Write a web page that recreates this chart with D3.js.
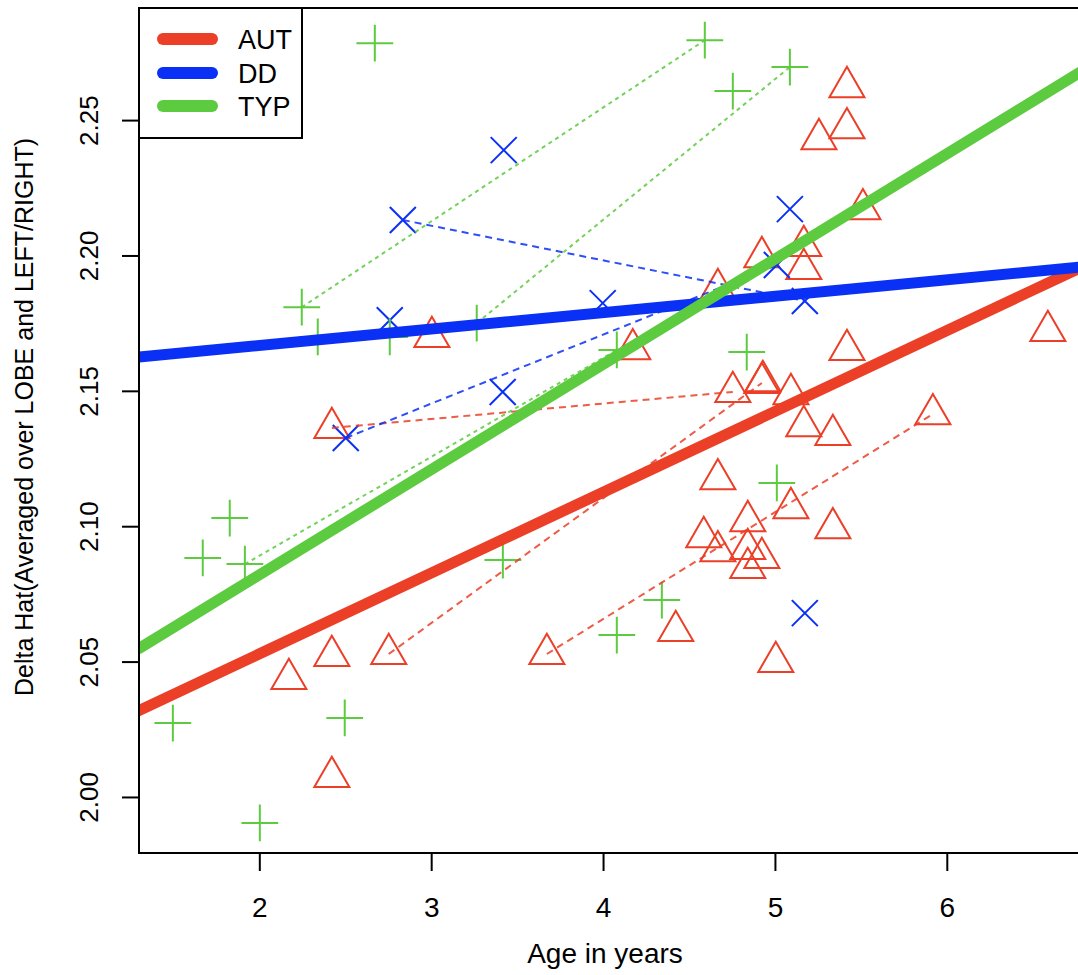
<!DOCTYPE html>
<html>
<head>
<meta charset="utf-8">
<script src="https://cdn.jsdelivr.net/npm/d3@7"></script>
<style>
html,body{margin:0;padding:0;background:#fff;}
svg{display:block;}
text{font-family:"Liberation Sans",Arial,Helvetica,sans-serif;fill:#000;}
</style>
</head>
<body>
<svg id="chart" width="1078" height="975"></svg>
<script>
// ---------------- data ----------------
const groups = ["AUT", "DD", "TYP"];
const groupColors = ["#ec3f27", "#0a30f6", "#5ccb3f"];

// AUT (red triangles)
const autAge = [5.419,5.419,5.256,5.512,5.168,5.168,4.924,4.668,5.419,6.588,4.173,4.755,4.924,5.093,5.168,5.337,5.919,4.668,5.093,4.842,5.337,4.586,4.668,4.842,4.924,4.842,4.423,5.005,2.422,2.753,3.673,2.172,2.422,3.004,2.422,4.930];
const autVal = [2.2622,2.2470,2.2430,2.2171,2.2035,2.1950,2.1994,2.1876,2.1651,2.1721,2.1654,2.1496,2.1529,2.1488,2.1370,2.1337,2.1414,2.1174,2.1067,2.1019,2.0993,2.0960,2.0908,2.0916,2.0883,2.0846,2.0613,2.0499,2.0521,2.0528,2.0528,2.0436,2.0074,2.1699,2.1363,2.1536];
// DD (blue crosses)
const ddAge = [3.422,2.835,2.759,3.998,3.416,2.503,5.087,5.011,5.174,5.174];
const ddVal = [2.2389,2.2131,2.1761,2.1824,2.1496,2.1326,2.2171,2.1965,2.1832,2.0679];
// TYP (green pluses)
const typAge = [2.672,4.592,4.755,5.087,2.247,2.340,2.759,3.265,4.080,4.836,1.828,1.671,1.916,3.417,4.080,4.342,5.011,1.497,2.003,2.497];
const typVal = [2.2784,2.2795,2.2607,2.2696,2.1809,2.1699,2.1699,2.1750,2.1651,2.1643,2.1030,2.0883,2.0860,2.0875,2.0598,2.0727,2.1160,2.0273,1.9904,2.0292];

// repeated-measure links (index pairs into each group's arrays)
const autPairs = [[34,11],[29,12],[30,16]];
const ddPairs  = [[1,8],[5,7]];
const typPairs = [[4,1],[7,3],[12,8]];

// fitted regression lines: value = intercept + slope * age
const fitIntercept = [1.9931, 2.1546, 2.0043];
const fitSlope     = [0.02986, 0.00607, 0.03887];

const xTicks = [2,3,4,5,6];
const yTicks = [2.00,2.05,2.10,2.15,2.20,2.25];
const xTitle = "Age in years";
const yTitle = "Delta Hat(Averaged over LOBE and LEFT/RIGHT)";

// ---------------- layout ----------------
const svg = d3.select("#chart");
const L = 139, T = 8, B = 853, R = 1084.3;
const x = d3.scaleLinear().domain([1.3, 6.8]).range([L, R]);
const y = d3.scaleLinear().domain([1.9793, 2.2914]).range([B, T]);

svg.append("defs").append("clipPath").attr("id","clip")
  .append("rect").attr("x",L).attr("y",T).attr("width",R-L).attr("height",B-T);

const plot = svg.append("g").attr("clip-path","url(#clip)");

const RAD = 13;
function triPath(cx, cy){
  const xc = RAD, r = 1.5551*xc, hw = 1.3468*xc, yc = 0.7775*xc;
  return `M${cx},${cy-r}L${cx+hw},${cy+yc}L${cx-hw},${cy+yc}Z`;
}
function plusPath(cx, cy){
  const a = RAD*Math.SQRT2;
  return `M${cx-a},${cy}L${cx+a},${cy}M${cx},${cy-a}L${cx},${cy+a}`;
}
function crossPath(cx, cy){
  const a = RAD;
  return `M${cx-a},${cy-a}L${cx+a},${cy+a}M${cx-a},${cy+a}L${cx+a},${cy-a}`;
}

// points
const aut = autAge.map((a,i)=>({age:a,val:autVal[i]}));
const dd  = ddAge.map((a,i)=>({age:a,val:ddVal[i]}));
const typ = typAge.map((a,i)=>({age:a,val:typVal[i]}));

plot.append("g").selectAll("path").data(aut).join("path")
  .attr("d", d=>triPath(x(d.age), y(d.val)))
  .attr("fill","none").attr("stroke",groupColors[0]).attr("stroke-width",2);
plot.append("g").selectAll("path").data(dd).join("path")
  .attr("d", d=>crossPath(x(d.age), y(d.val)))
  .attr("fill","none").attr("stroke",groupColors[1]).attr("stroke-width",2);
plot.append("g").selectAll("path").data(typ).join("path")
  .attr("d", d=>plusPath(x(d.age), y(d.val)))
  .attr("fill","none").attr("stroke",groupColors[2]).attr("stroke-width",2);

// linking dashed lines
function links(data, pairs, color, dash){
  plot.append("g").selectAll("line").data(pairs).join("line")
    .attr("x1", p=>x(data[p[0]].age)).attr("y1", p=>y(data[p[0]].val))
    .attr("x2", p=>x(data[p[1]].age)).attr("y2", p=>y(data[p[1]].val))
    .attr("stroke", color).attr("stroke-width", 2).attr("stroke-dasharray", dash)
    .attr("opacity", 0.85);
}
links(aut, autPairs, groupColors[0], "7 5");
links(dd, ddPairs, groupColors[1], "7 5");
links(typ, typPairs, groupColors[2], "4 4");

// regression lines
const xd = x.domain();
plot.append("g").selectAll("line").data(groups).join("line")
  .attr("x1", x(xd[0])).attr("x2", x(xd[1]))
  .attr("y1", (g,i)=>y(fitIntercept[i] + fitSlope[i]*xd[0]))
  .attr("y2", (g,i)=>y(fitIntercept[i] + fitSlope[i]*xd[1]))
  .attr("stroke", (g,i)=>groupColors[i]).attr("stroke-width", 11)
  .attr("stroke-linecap","round");

// frame
svg.append("rect").attr("x",L).attr("y",T).attr("width",R-L).attr("height",B-T)
  .attr("fill","none").attr("stroke","#000").attr("stroke-width",2);

// axes
const xAxis = svg.append("g").attr("transform",`translate(0,${B})`)
  .call(d3.axisBottom(x).tickValues(xTicks).tickSize(18).tickPadding(6).tickFormat(d3.format("d")));
xAxis.select(".domain").remove();
xAxis.selectAll(".tick line").attr("stroke","#000").attr("stroke-width",2);
xAxis.selectAll(".tick text").attr("font-size",28).attr("dy",null).attr("y",64)
  .attr("font-family",'"Liberation Sans",Arial,sans-serif');

const yAxis = svg.append("g").attr("transform",`translate(${L},0)`)
  .call(d3.axisLeft(y).tickValues(yTicks).tickSize(17).tickFormat(d3.format(".2f")));
yAxis.select(".domain").remove();
yAxis.selectAll(".tick line").attr("stroke","#000").attr("stroke-width",2);
yAxis.selectAll(".tick text")
  .attr("x",null).attr("dy",null)
  .attr("text-anchor","middle")
  .attr("font-size",26)
  .attr("font-family",'"Liberation Sans",Arial,sans-serif')
  .attr("transform","translate(-41,0) rotate(-90)");

// titles
svg.append("text").attr("x",605).attr("y",963).attr("text-anchor","middle")
  .attr("font-size",28).text(xTitle);
svg.append("text").attr("transform","translate(33,417) rotate(-90)")
  .attr("text-anchor","middle").attr("font-size",25).text(yTitle);

// legend
const lg = svg.append("g");
lg.append("rect").attr("x",L).attr("y",T).attr("width",163).attr("height",130)
  .attr("fill","#fff").attr("stroke","#000").attr("stroke-width",2);
const ly = [39, 73, 106];
lg.selectAll("line").data(groups).join("line")
  .attr("x1",163).attr("x2",212)
  .attr("y1",(g,i)=>ly[i]).attr("y2",(g,i)=>ly[i])
  .attr("stroke",(g,i)=>groupColors[i]).attr("stroke-width",12).attr("stroke-linecap","round");
lg.selectAll("text").data(groups).join("text")
  .attr("x",238).attr("y",(g,i)=>ly[i]+10)
  .attr("font-size",27).text(g=>g);
</script>
</body>
</html>
